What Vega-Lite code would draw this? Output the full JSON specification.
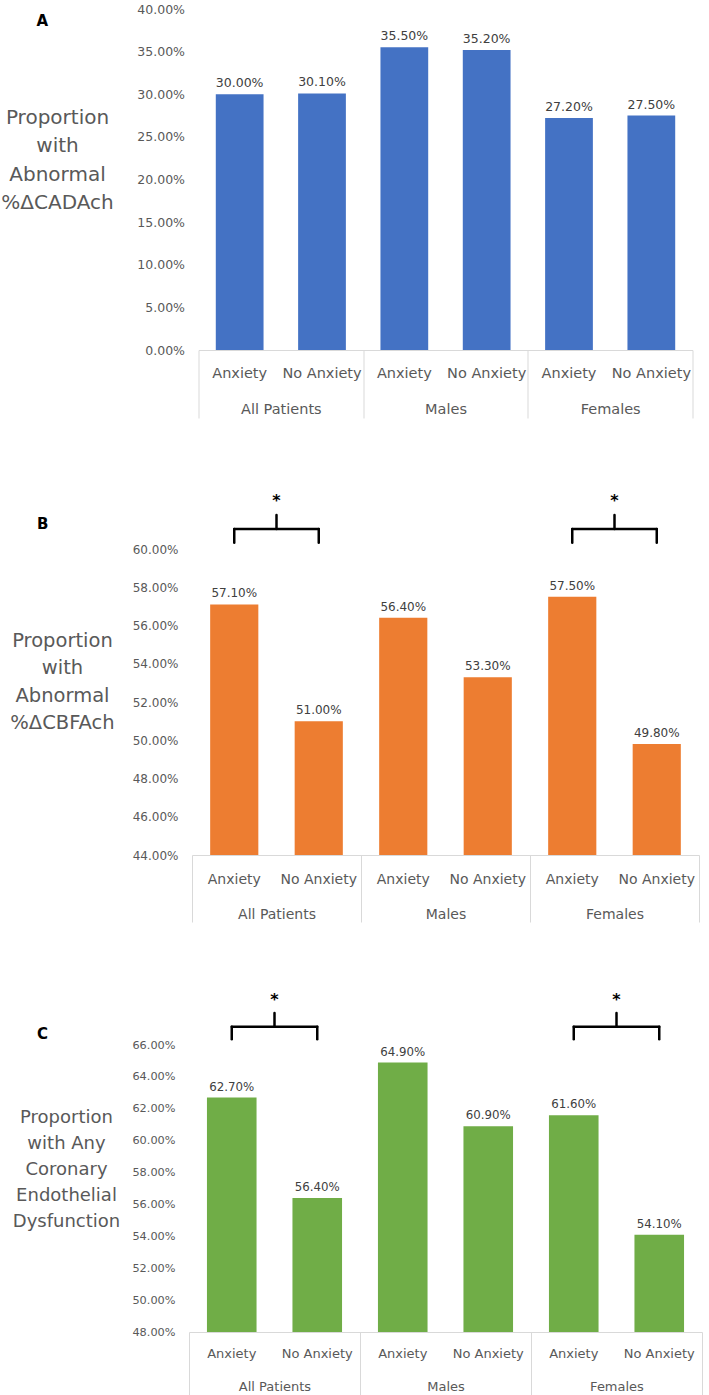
{
  "$schema": "https://vega.github.io/schema/vega-lite/v6.json",
  "padding": {"left": 0, "top": 3, "right": 0, "bottom": 0},
  "bounds": "flush",
  "center": true,
  "spacing": 190,
  "config": {
    "view": {"stroke": null},
    "font": "DejaVu Sans",
    "axis": {"labelFont": "DejaVu Sans", "titleFont": "DejaVu Sans", "labelOverlap": false},
    "title": {"font": "DejaVu Sans"}
  },
  "datasets": {
    "a": [
      {"group": "All Patients", "anxiety": "Anxiety", "bar": "All Patients|Anxiety", "value": 0.300},
      {"group": "All Patients", "anxiety": "No Anxiety", "bar": "All Patients|No Anxiety", "value": 0.301},
      {"group": "Males", "anxiety": "Anxiety", "bar": "Males|Anxiety", "value": 0.355},
      {"group": "Males", "anxiety": "No Anxiety", "bar": "Males|No Anxiety", "value": 0.352},
      {"group": "Females", "anxiety": "Anxiety", "bar": "Females|Anxiety", "value": 0.272},
      {"group": "Females", "anxiety": "No Anxiety", "bar": "Females|No Anxiety", "value": 0.275}
    ],
    "b": [
      {"group": "All Patients", "anxiety": "Anxiety", "bar": "All Patients|Anxiety", "value": 0.571},
      {"group": "All Patients", "anxiety": "No Anxiety", "bar": "All Patients|No Anxiety", "value": 0.510},
      {"group": "Males", "anxiety": "Anxiety", "bar": "Males|Anxiety", "value": 0.564},
      {"group": "Males", "anxiety": "No Anxiety", "bar": "Males|No Anxiety", "value": 0.533},
      {"group": "Females", "anxiety": "Anxiety", "bar": "Females|Anxiety", "value": 0.575},
      {"group": "Females", "anxiety": "No Anxiety", "bar": "Females|No Anxiety", "value": 0.498}
    ],
    "c": [
      {"group": "All Patients", "anxiety": "Anxiety", "bar": "All Patients|Anxiety", "value": 0.627},
      {"group": "All Patients", "anxiety": "No Anxiety", "bar": "All Patients|No Anxiety", "value": 0.564},
      {"group": "Males", "anxiety": "Anxiety", "bar": "Males|Anxiety", "value": 0.649},
      {"group": "Males", "anxiety": "No Anxiety", "bar": "Males|No Anxiety", "value": 0.609},
      {"group": "Females", "anxiety": "Anxiety", "bar": "Females|Anxiety", "value": 0.616},
      {"group": "Females", "anxiety": "No Anxiety", "bar": "Females|No Anxiety", "value": 0.541}
    ],
    "groups": [{"group": "All Patients"}, {"group": "Males"}, {"group": "Females"}],
    "sig": [
      {"group": "All Patients", "from": "All Patients|Anxiety", "to": "All Patients|No Anxiety", "mark": "*"},
      {"group": "Females", "from": "Females|Anxiety", "to": "Females|No Anxiety", "mark": "*"}
    ]
  },
  "vconcat": [
    {
      "title": {"text": "A", "anchor": "start", "frame": "group", "dx": -162, "dy": 26, "fontSize": 15, "fontWeight": "bold", "color": "black", "offset": 0},
      "width": 494,
      "height": 341,
      "data": {"name": "a"},
      "resolve": {"scale": {"x": "independent"}, "axis": {"x": "independent"}},
      "layer": [
        {
          "layer": [
            {
              "mark": {"type": "bar", "color": "#4472C4", "clip": true},
              "encoding": {
                "x": {"field": "bar", "type": "nominal",
                  "scale": {"domain": ["All Patients|Anxiety", "All Patients|No Anxiety", "Males|Anxiety", "Males|No Anxiety", "Females|Anxiety", "Females|No Anxiety"], "paddingInner": 0.42, "paddingOuter": 0.21},
                  "axis": {"title": null, "labelExpr": "split(datum.label, '|')[1]", "ticks": false, "domainColor": "#D9D9D9", "labelPadding": 16, "labelAngle": 0, "labelFontSize": 14.5, "labelColor": "#595959", "labelBaseline": "top", "grid": false}},
                "y": {"field": "value", "type": "quantitative",
                  "scale": {"domain": [0, 0.4], "nice": false},
                  "axis": {"title": ["Proportion", "with", "Abnormal", "%ΔCADAch"], "titleAngle": 0, "titleAlign": "center", "titleBaseline": "middle", "titleX": -141.5, "titleY": 108, "titleFontSize": 20, "titleFontWeight": "normal", "titleColor": "#595959", "titleLineHeight": 28.5, "format": ".2%", "values": [0, 0.05, 0.1, 0.15, 0.2, 0.25, 0.3, 0.35, 0.4], "tickCount": 30, "labelOverlap": false, "domain": false, "ticks": false, "grid": false, "labelPadding": 14, "labelFontSize": 12.5, "labelColor": "#595959"}}
              }
            },
            {
              "mark": {"type": "text", "baseline": "alphabetic", "dy": -7, "fontSize": 12.5, "color": "#404040"},
              "encoding": {
                "x": {"field": "bar", "type": "nominal"},
                "y": {"field": "value", "type": "quantitative"},
                "text": {"field": "value", "type": "quantitative", "format": ".2%"}
              }
            }
          ]
        },
        {
          "data": {"name": "groups"},
          "mark": {"type": "text", "text": ""},
          "encoding": {
            "x": {"field": "group", "type": "nominal",
              "scale": {"type": "band", "domain": ["All Patients", "Males", "Females"], "paddingInner": 0, "paddingOuter": 0},
              "axis": {"orient": "bottom", "title": null, "domain": false, "ticks": true, "tickBand": "extent", "tickSize": 68, "tickColor": "#D9D9D9", "tickWidth": 1, "labelPadding": -16, "labelFontSize": 14.5, "labelColor": "#595959", "labelBaseline": "top", "labelAngle": 0, "grid": false}}
          }
        }
      ]
    },
    {
      "title": {"text": "B", "anchor": "start", "frame": "group", "dx": -155, "dy": 39, "fontSize": 15, "fontWeight": "bold", "color": "black", "offset": 0},
      "width": 507,
      "height": 315,
      "data": {"name": "b"},
      "resolve": {"scale": {"x": "independent"}, "axis": {"x": "independent"}},
      "layer": [
        {
          "layer": [
            {
              "mark": {"type": "bar", "color": "#ED7D31", "clip": true},
              "encoding": {
                "x": {"field": "bar", "type": "nominal",
                  "scale": {"domain": ["All Patients|Anxiety", "All Patients|No Anxiety", "Males|Anxiety", "Males|No Anxiety", "Females|Anxiety", "Females|No Anxiety"], "paddingInner": 0.43, "paddingOuter": 0.215},
                  "axis": {"title": null, "labelExpr": "split(datum.label, '|')[1]", "ticks": false, "domainColor": "#D9D9D9", "labelPadding": 17, "labelAngle": 0, "labelFontSize": 14, "labelColor": "#595959", "labelBaseline": "top", "grid": false}},
                "y": {"field": "value", "type": "quantitative",
                  "scale": {"domain": [0.44, 0.604706], "nice": false, "zero": false},
                  "axis": {"title": ["Proportion", "with", "Abnormal", "%ΔCBFAch"], "titleAngle": 0, "titleAlign": "center", "titleBaseline": "middle", "titleX": -130, "titleY": 100, "titleFontSize": 19.5, "titleFontWeight": "normal", "titleColor": "#595959", "titleLineHeight": 27.5, "format": ".2%", "values": [0.44, 0.46, 0.48, 0.5, 0.52, 0.54, 0.56, 0.58, 0.6], "tickCount": 30, "labelOverlap": false, "domain": false, "ticks": false, "grid": false, "labelPadding": 14, "labelFontSize": 12, "labelColor": "#595959"}}
              }
            },
            {
              "mark": {"type": "text", "baseline": "alphabetic", "dy": -7, "fontSize": 12, "color": "#404040"},
              "encoding": {
                "x": {"field": "bar", "type": "nominal"},
                "y": {"field": "value", "type": "quantitative"},
                "text": {"field": "value", "type": "quantitative", "format": ".2%"}
              }
            },
            {
              "data": {"name": "sig"},
              "mark": {"type": "rule", "strokeWidth": 2.5, "color": "black", "strokeCap": "round"},
              "encoding": {
                "x": {"field": "from", "type": "nominal"},
                "x2": {"field": "to"},
                "y": {"datum": 0.6105}
              }
            },
            {
              "data": {"name": "sig"},
              "mark": {"type": "rule", "strokeWidth": 2.5, "color": "black", "strokeCap": "round"},
              "encoding": {
                "x": {"field": "from", "type": "nominal"},
                "y": {"datum": 0.6105},
                "y2": {"datum": 0.6033}
              }
            },
            {
              "data": {"name": "sig"},
              "mark": {"type": "rule", "strokeWidth": 2.5, "color": "black", "strokeCap": "round"},
              "encoding": {
                "x": {"field": "to", "type": "nominal"},
                "y": {"datum": 0.6105},
                "y2": {"datum": 0.6033}
              }
            }
          ]
        },
        {
          "layer": [
            {
              "data": {"name": "groups"},
              "mark": {"type": "text", "text": ""},
              "encoding": {
                "x": {"field": "group", "type": "nominal",
                  "scale": {"type": "band", "domain": ["All Patients", "Males", "Females"], "paddingInner": 0, "paddingOuter": 0},
                  "axis": {"orient": "bottom", "title": null, "domain": false, "ticks": true, "tickBand": "extent", "tickSize": 67, "tickColor": "#D9D9D9", "tickWidth": 1, "labelPadding": -15, "labelFontSize": 14, "labelColor": "#595959", "labelBaseline": "top", "labelAngle": 0, "grid": false}}
              }
            },
            {
              "data": {"name": "sig"},
              "mark": {"type": "rule", "strokeWidth": 2.5, "color": "black", "strokeCap": "round"},
              "encoding": {
                "x": {"field": "group", "type": "nominal"},
                "y": {"datum": 0.6105},
                "y2": {"datum": 0.6178}
              }
            },
            {
              "data": {"name": "sig"},
              "mark": {"type": "text", "fontSize": 16, "fontWeight": "bold", "color": "black", "baseline": "middle"},
              "encoding": {
                "x": {"field": "group", "type": "nominal"},
                "y": {"datum": 0.625},
                "text": {"field": "mark"}
              }
            }
          ]
        }
      ]
    },
    {
      "title": {"text": "C", "anchor": "start", "frame": "group", "dx": -152, "dy": 50, "fontSize": 15, "fontWeight": "bold", "color": "black", "offset": 0},
      "width": 513,
      "height": 287,
      "data": {"name": "c"},
      "resolve": {"scale": {"x": "independent"}, "axis": {"x": "independent"}},
      "layer": [
        {
          "layer": [
            {
              "mark": {"type": "bar", "color": "#70AD47", "clip": true},
              "encoding": {
                "x": {"field": "bar", "type": "nominal",
                  "scale": {"domain": ["All Patients|Anxiety", "All Patients|No Anxiety", "Males|Anxiety", "Males|No Anxiety", "Females|Anxiety", "Females|No Anxiety"], "paddingInner": 0.42, "paddingOuter": 0.21},
                  "axis": {"title": null, "labelExpr": "split(datum.label, '|')[1]", "ticks": false, "domainColor": "#D9D9D9", "labelPadding": 15, "labelAngle": 0, "labelFontSize": 13, "labelColor": "#595959", "labelBaseline": "top", "grid": false}},
                "y": {"field": "value", "type": "quantitative",
                  "scale": {"domain": [0.48, 0.66], "nice": false, "zero": false},
                  "axis": {"title": ["Proportion", "with Any", "Coronary", "Endothelial", "Dysfunction"], "titleAngle": 0, "titleAlign": "center", "titleBaseline": "middle", "titleX": -123, "titleY": 72, "titleFontSize": 18, "titleFontWeight": "normal", "titleColor": "#595959", "titleLineHeight": 26, "format": ".2%", "values": [0.48, 0.5, 0.52, 0.54, 0.56, 0.58, 0.6, 0.62, 0.64, 0.66], "tickCount": 30, "labelOverlap": false, "domain": false, "ticks": false, "grid": false, "labelPadding": 14, "labelFontSize": 11.3, "labelColor": "#595959"}}
              }
            },
            {
              "mark": {"type": "text", "baseline": "alphabetic", "dy": -7, "fontSize": 11.8, "color": "#404040"},
              "encoding": {
                "x": {"field": "bar", "type": "nominal"},
                "y": {"field": "value", "type": "quantitative"},
                "text": {"field": "value", "type": "quantitative", "format": ".2%"}
              }
            },
            {
              "data": {"name": "sig"},
              "mark": {"type": "rule", "strokeWidth": 2.5, "color": "black", "strokeCap": "round"},
              "encoding": {
                "x": {"field": "from", "type": "nominal"},
                "x2": {"field": "to"},
                "y": {"datum": 0.6714}
              }
            },
            {
              "data": {"name": "sig"},
              "mark": {"type": "rule", "strokeWidth": 2.5, "color": "black", "strokeCap": "round"},
              "encoding": {
                "x": {"field": "from", "type": "nominal"},
                "y": {"datum": 0.6714},
                "y2": {"datum": 0.6636}
              }
            },
            {
              "data": {"name": "sig"},
              "mark": {"type": "rule", "strokeWidth": 2.5, "color": "black", "strokeCap": "round"},
              "encoding": {
                "x": {"field": "to", "type": "nominal"},
                "y": {"datum": 0.6714},
                "y2": {"datum": 0.6636}
              }
            }
          ]
        },
        {
          "layer": [
            {
              "data": {"name": "groups"},
              "mark": {"type": "text", "text": ""},
              "encoding": {
                "x": {"field": "group", "type": "nominal",
                  "scale": {"type": "band", "domain": ["All Patients", "Males", "Females"], "paddingInner": 0, "paddingOuter": 0},
                  "axis": {"orient": "bottom", "title": null, "domain": false, "ticks": true, "tickBand": "extent", "tickSize": 66, "tickColor": "#D9D9D9", "tickWidth": 1, "labelPadding": -18, "labelFontSize": 13, "labelColor": "#595959", "labelBaseline": "top", "labelAngle": 0, "grid": false}}
              }
            },
            {
              "data": {"name": "sig"},
              "mark": {"type": "rule", "strokeWidth": 2.5, "color": "black", "strokeCap": "round"},
              "encoding": {
                "x": {"field": "group", "type": "nominal"},
                "y": {"datum": 0.6714},
                "y2": {"datum": 0.68}
              }
            },
            {
              "data": {"name": "sig"},
              "mark": {"type": "text", "fontSize": 16, "fontWeight": "bold", "color": "black", "baseline": "middle"},
              "encoding": {
                "x": {"field": "group", "type": "nominal"},
                "y": {"datum": 0.6883},
                "text": {"field": "mark"}
              }
            }
          ]
        }
      ]
    }
  ]
}
